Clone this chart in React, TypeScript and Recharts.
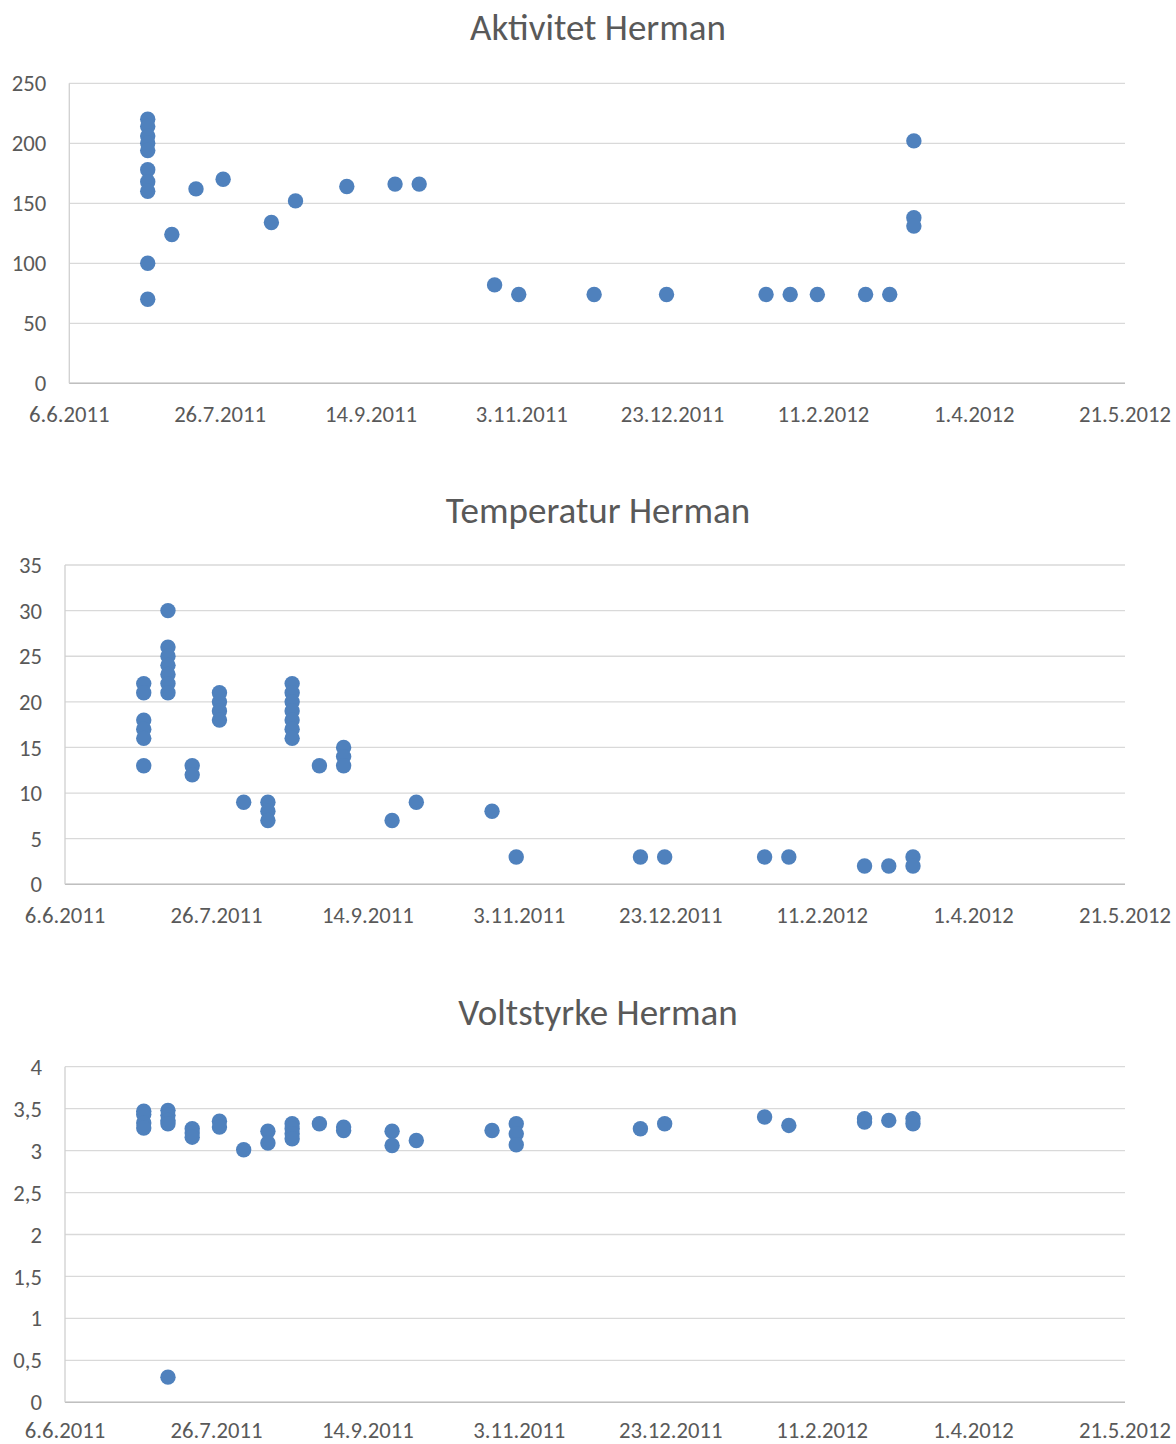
import React from 'react';
import { ScatterChart, Scatter, XAxis, YAxis, CartesianGrid } from 'recharts';

// X axis tick dates (every 50 days)
const xTickDates = ['2011-06-06', '2011-07-26', '2011-09-14', '2011-11-03', '2011-12-23', '2012-02-11', '2012-04-01', '2012-05-21'];

// Aktivitet Herman
const activityDates = ['2011-07-02', '2011-07-10', '2011-07-18', '2011-07-27', '2011-08-12', '2011-08-20', '2011-09-06', '2011-09-22', '2011-09-30', '2011-10-25', '2011-11-02', '2011-11-27', '2011-12-21', '2012-01-23', '2012-01-31', '2012-02-09', '2012-02-25', '2012-03-04', '2012-03-12'];
const activityValues = [
  [220, 214, 206, 200, 194, 178, 168, 160, 100, 70],
  [124], [162], [170], [134], [152], [164], [166], [166],
  [82], [74], [74], [74], [74], [74], [74], [74], [74],
  [202, 138, 131],
];
const activityTicks = [0, 50, 100, 150, 200, 250];

// Temperatur Herman
const tempDates = ['2011-07-02', '2011-07-10', '2011-07-18', '2011-07-27', '2011-08-04', '2011-08-12', '2011-08-20', '2011-08-29', '2011-09-06', '2011-09-22', '2011-09-30', '2011-10-25', '2011-11-02', '2011-12-13', '2011-12-21', '2012-01-23', '2012-01-31', '2012-02-25', '2012-03-04', '2012-03-12'];
const tempValues = [
  [22, 21, 18, 17, 16, 13],
  [30, 26, 25, 24, 23, 22, 21],
  [13, 12],
  [21, 20, 19, 18],
  [9],
  [9, 8, 7],
  [22, 21, 20, 19, 18, 17, 16],
  [13],
  [15, 14, 13],
  [7],
  [9],
  [8],
  [3], [3], [3], [3], [3],
  [2], [2],
  [3, 2],
];
const tempTicks = [0, 5, 10, 15, 20, 25, 30, 35];

// Voltstyrke Herman
const voltDates = tempDates;
const voltValues = [
  [3.47, 3.43, 3.33, 3.27],
  [3.48, 3.42, 3.36, 3.32, 0.3],
  [3.26, 3.21, 3.16],
  [3.35, 3.28],
  [3.01],
  [3.23, 3.09],
  [3.32, 3.26, 3.2, 3.14],
  [3.32],
  [3.28, 3.24],
  [3.23, 3.06],
  [3.12],
  [3.24],
  [3.32, 3.2, 3.07],
  [3.26],
  [3.32],
  [3.4],
  [3.3],
  [3.38, 3.34],
  [3.36],
  [3.38, 3.32],
];
const voltTicks = [0, 0.5, 1, 1.5, 2, 2.5, 3, 3.5, 4];

const ts = (s: string) => {
  const [y, m, d] = s.split('-').map(Number);
  return Date.UTC(y, m - 1, d);
};
const fmtDate = (t: number) => {
  const dt = new Date(t);
  return `${dt.getUTCDate()}.${dt.getUTCMonth() + 1}.${dt.getUTCFullYear()}`;
};
const toPoints = (dates: string[], values: number[][]) =>
  dates.flatMap((d, i) => values[i].map((v) => ({ x: ts(d), y: v })));

const FONT = "Carlito, Calibri, 'Open Sans', sans-serif";
const TEXT = '#595959';
const DOT = '#4F81BD';
const TICK_FS = 22.7;
const xTicks = xTickDates.map(ts);
const xDomain = [xTicks[0], xTicks[xTicks.length - 1]];

const Dot = (props: any) => <circle cx={props.cx} cy={props.cy} r={7.7} fill={DOT} />;

type PanelProps = {
  top: number;
  height: number;
  margin: { top: number; right: number; bottom: number; left: number };
  title: string;
  titleTop: number;
  data: { x: number; y: number }[];
  yTicks: number[];
  yFmt?: (v: number) => string;
  xTickMargin?: number;
};

const Panel = ({ top, height, margin, title, titleTop, data, yTicks, yFmt, xTickMargin = 23 }: PanelProps) => (
  <>
    <div
      style={{
        position: 'absolute', top: titleTop, left: 598, transform: 'translateX(-50%)',
        fontFamily: FONT, fontSize: 37, lineHeight: '40px', color: TEXT, whiteSpace: 'nowrap',
      }}
    >
      {title}
    </div>
    <div style={{ position: 'absolute', top, left: 0 }}>
      <ScatterChart width={1176} height={height} margin={margin}>
        <CartesianGrid vertical={false} stroke="#D9D9D9" strokeWidth={1.3} />
        <XAxis
          type="number" dataKey="x" domain={xDomain} ticks={xTicks} interval={0}
          tickFormatter={fmtDate} tickLine={false} tickSize={0} tickMargin={xTickMargin} height={40}
          axisLine={{ stroke: '#BFBFBF', strokeWidth: 1.5 }}
          tick={{ fill: TEXT, fontSize: TICK_FS, fontFamily: FONT }}
          allowDataOverflow
        />
        <YAxis
          type="number" dataKey="y" domain={[yTicks[0], yTicks[yTicks.length - 1]]} ticks={yTicks} interval={0}
          tickFormatter={yFmt} tickLine={false} tickSize={0} tickMargin={23} width={60}
          axisLine={{ stroke: '#D0D0D0', strokeWidth: 1.3 }}
          tick={{ fill: TEXT, fontSize: TICK_FS, fontFamily: FONT }}
        />
        <Scatter data={data} shape={Dot} isAnimationActive={false} />
      </ScatterChart>
    </div>
  </>
);

export default function App() {
  return (
    <div style={{ position: 'absolute', top: 0, left: 0, width: 1176, height: 1444, background: '#fff', overflow: 'hidden' }}>
      <Panel
        top={0} height={440} margin={{ top: 83.3, right: 51, bottom: 16.7, left: 9.3 }}
        title="Aktivitet Herman" titleTop={8}
        data={toPoints(activityDates, activityValues)} yTicks={activityTicks}
      />
      <Panel
        top={480} height={480} margin={{ top: 85, right: 51, bottom: 35.7, left: 5 }}
        title="Temperatur Herman" titleTop={491}
        data={toPoints(tempDates, tempValues)} yTicks={tempTicks}
      />
      <Panel
        top={960} height={484} margin={{ top: 106.7, right: 51, bottom: 1.7, left: 5 }}
        title="Voltstyrke Herman" titleTop={993}
        data={toPoints(voltDates, voltValues)} yTicks={voltTicks}
        yFmt={(v: number) => String(v).replace('.', ',')}
        xTickMargin={19.5}
      />
    </div>
  );
}
